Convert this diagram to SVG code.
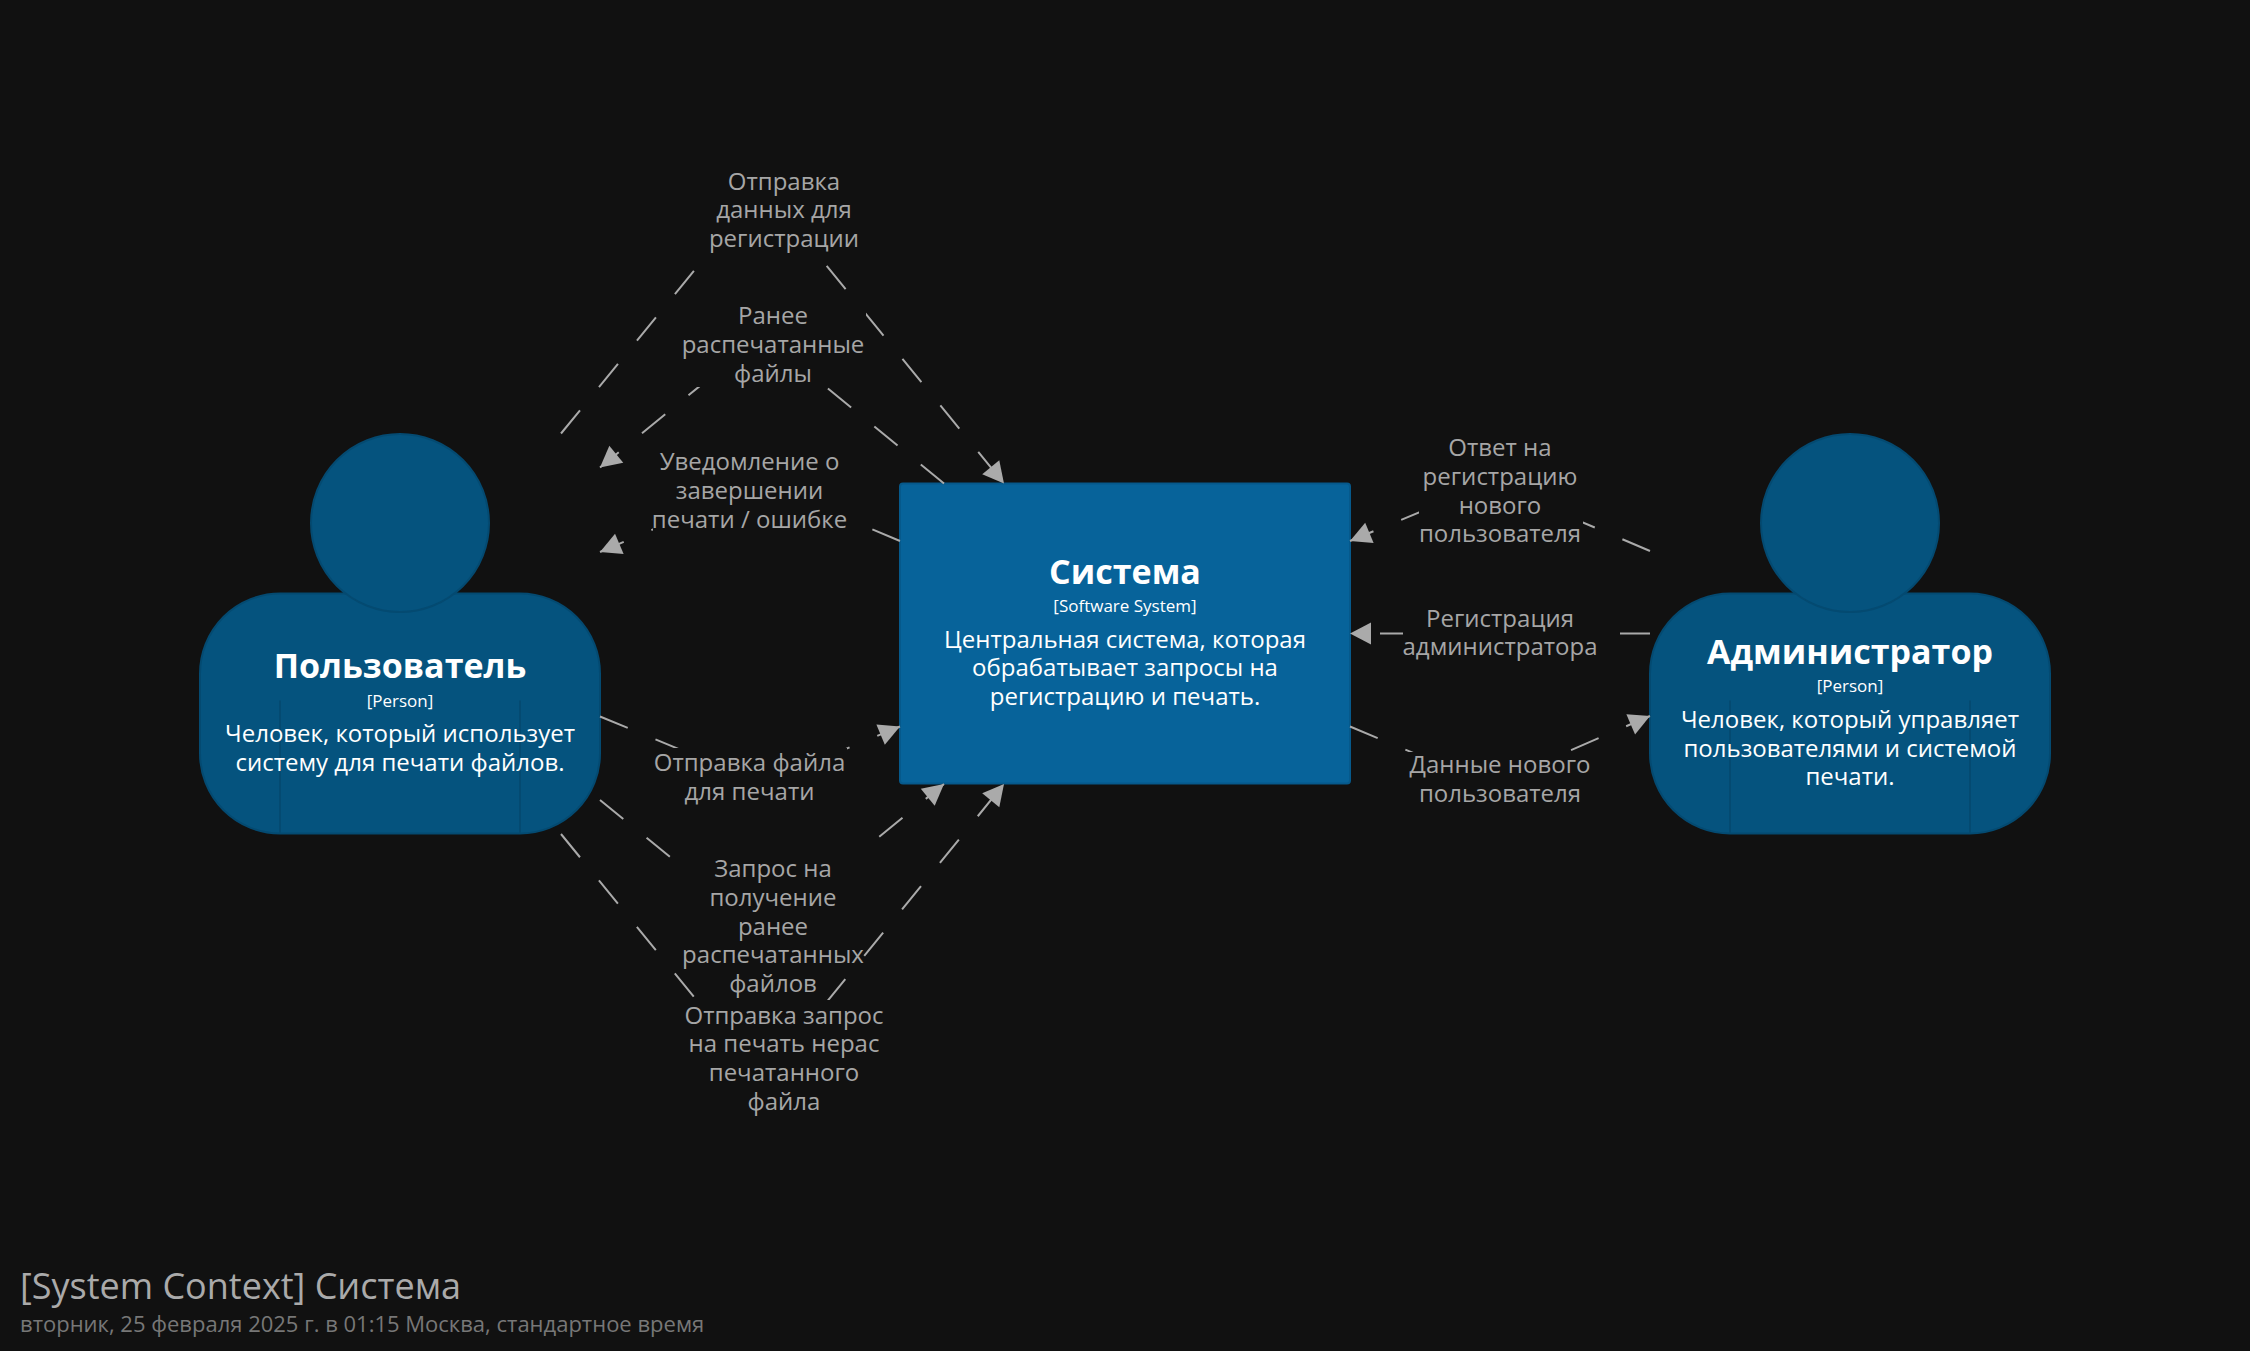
<svg xmlns="http://www.w3.org/2000/svg" width="2250" height="1351" viewBox="0 0 2250 1351">
<style>
text{font-family:"Open Sans","Noto Sans",sans-serif}
.c{fill:none;stroke:#aaaaaa;stroke-width:2;stroke-dasharray:30 30;marker-end:url(#arrow)}
.bg{fill:#111111}
.l{fill:#a6a6a6;font-size:24px;text-anchor:middle}
.person{fill:#05537e;stroke:#044a71;stroke-width:2}
.in{fill:none;stroke:#044a71;stroke-width:2}
.sys{fill:#07639a;stroke:#06598b;stroke-width:2}
.t{fill:#ffffff;text-anchor:middle}
.n{font-size:34px;font-weight:700}
.m{font-size:17px}
.d{font-size:24px}
</style>
<defs>
<marker id="arrow" markerUnits="userSpaceOnUse" markerWidth="26" markerHeight="26" viewBox="-3 -13 26 26" refX="21" refY="0" orient="auto"><path d="M21 0L0 11L0 -11Z" fill="#aaaaaa"/></marker>
</defs>
<rect width="2250" height="1351" fill="#111111"/>
<g id="user">
<rect class="person" x="200" y="593.500" width="400" height="240" rx="80"/>
<path class="in" d="M280 700.500V833.500M520 700.500V833.500"/>
<circle class="person" cx="400" cy="523" r="89"/>
<text class="t n" x="400" y="678">Пользователь</text>
<text class="t m" x="400" y="706.500">[Person]</text>
<text class="t d"><tspan x="400" y="742.200">Человек, который использует</tspan><tspan x="400" y="771">систему для печати файлов.</tspan></text>
</g>
<g id="system">
<rect class="sys" x="900" y="483.500" width="450" height="300" rx="3"/>
<text class="t n" x="1125" y="584">Система</text>
<text class="t m" x="1125" y="611.800">[Software System]</text>
<text class="t d"><tspan x="1125" y="647.500">Центральная система, которая</tspan><tspan x="1125" y="676.300">обрабатывает запросы на</tspan><tspan x="1125" y="705.100">регистрацию и печать.</tspan></text>
</g>
<g id="admin">
<rect class="person" x="1650" y="593.500" width="400" height="240" rx="80"/>
<path class="in" d="M1730 700.500V833.500M1970 700.500V833.500"/>
<circle class="person" cx="1850" cy="523" r="89"/>
<text class="t n" x="1850" y="664">Администратор</text>
<text class="t m" x="1850" y="692">[Person]</text>
<text class="t d"><tspan x="1850" y="727.700">Человек, который управляет</tspan><tspan x="1850" y="756.500">пользователями и системой</tspan><tspan x="1850" y="785.300">печати.</tspan></text>
</g>
<g id="connectors">
<g id="c1"><path class="c" d="M561 433.500L762.500 187L1004 483.500"/><rect class="bg" x="708" y="166" width="152" height="87"/><text class="l"><tspan x="784" y="189.500">Отправка</tspan><tspan x="784" y="218.300">данных для</tspan><tspan x="784" y="247.100">регистрации</tspan></text></g>
<g id="c2"><path class="c" d="M944 483.500L762.500 335L600 467.500"/><rect class="bg" x="680" y="300" width="186" height="87"/><text class="l"><tspan x="773" y="324">Ранее</tspan><tspan x="773" y="352.800">распечатанные</tspan><tspan x="773" y="381.600">файлы</tspan></text></g>
<g id="c6"><path class="c" d="M900 541L762.500 483L600 552"/><rect class="bg" x="653" y="448" width="195" height="87"/><text class="l"><tspan x="749.500" y="470">Уведомление о</tspan><tspan x="749.500" y="498.800">завершении</tspan><tspan x="749.500" y="527.600">печати / ошибке</tspan></text></g>
<g id="c5"><path class="c" d="M600 716.500L762.500 783.500L900 726.500"/><rect class="bg" x="650" y="748" width="197" height="59"/><text class="l"><tspan x="749.500" y="771">Отправка файла</tspan><tspan x="749.500" y="799.800">для печати</tspan></text></g>
<g id="c3"><path class="c" d="M600 800L762.500 932L944 784"/><rect class="bg" x="680" y="855" width="186" height="145"/><text class="l"><tspan x="773" y="877">Запрос на</tspan><tspan x="773" y="905.800">получение</tspan><tspan x="773" y="934.600">ранее</tspan><tspan x="773" y="963.400">распечатанных</tspan><tspan x="773" y="992.200">файлов</tspan></text></g>
<g id="c4"><path class="c" d="M561 834L762.500 1081L1004 784"/><rect class="bg" x="684" y="1000" width="200" height="116"/><text class="l"><tspan x="784" y="1023.500">Отправка запрос</tspan><tspan x="784" y="1052.300">на печать нерас</tspan><tspan x="784" y="1081.100">печатанного</tspan><tspan x="784" y="1109.900">файла</tspan></text></g>
<g id="c7"><path class="c" d="M1650 551L1490 483L1350 541"/><rect class="bg" x="1419" y="434" width="164" height="116"/><text class="l"><tspan x="1500" y="456">Ответ на</tspan><tspan x="1500" y="484.800">регистрацию</tspan><tspan x="1500" y="513.600">нового</tspan><tspan x="1500" y="542.400">пользователя</tspan></text></g>
<g id="c8"><path class="c" d="M1650 633.500L1350 633.500"/><rect class="bg" x="1403" y="605" width="194" height="58"/><text class="l"><tspan x="1500" y="626.500">Регистрация</tspan><tspan x="1500" y="655.300">администратора</tspan></text></g>
<g id="c9"><path class="c" d="M1350 726.500L1490 785L1650 716"/><rect class="bg" x="1403" y="752" width="194" height="58"/><text class="l"><tspan x="1500" y="773">Данные нового</tspan><tspan x="1500" y="801.800">пользователя</tspan></text></g>
</g>
<g id="title">
<text x="20" y="1299" font-size="36" fill="#aaaaaa">[System Context] Система</text>
<text x="20" y="1332" font-size="22" fill="#777777">вторник, 25 февраля 2025 г. в 01:15 Москва, стандартное время</text>
</g>
</svg>
